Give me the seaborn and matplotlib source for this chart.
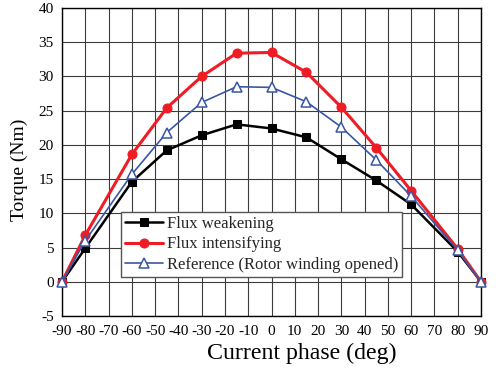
import matplotlib
matplotlib.use("Agg")
import matplotlib.pyplot as plt
import seaborn as sns
import pandas as pd

# Current phase angles (deg) and torque for each operating condition (Nm)
phase = [-90, -80, -60, -45, -30, -15, 0, 15, 30, 45, 60, 80, 90]
flux_weakening = [0, 4.9, 14.6, 19.2, 21.4, 23.0, 22.4, 21.1, 17.9, 14.8, 11.3, 4.4, 0]
flux_intensifying = [0, 6.8, 18.6, 25.4, 30.0, 33.4, 33.5, 30.6, 25.5, 19.6, 13.3, 4.8, 0]
reference = [0, 6.0, 15.7, 21.8, 26.2, 28.5, 28.4, 26.3, 22.6, 17.8, 12.5, 4.6, 0]

x_ticks = list(range(-90, 91, 10))
y_ticks = list(range(-5, 41, 5))

sns.set_theme(style="white")
plt.rcParams["font.family"] = ["Liberation Serif", "DejaVu Serif"]
plt.rcParams["axes.unicode_minus"] = False

fig = plt.figure(figsize=(4.96, 3.72), dpi=100)
ax = fig.add_axes([62 / 496, 1 - 316 / 372, 419 / 496, 308 / 372])

series = [
    ("Flux weakening", flux_weakening,
     dict(color="black", marker="s", markersize=5.5, linewidth=1.8,
          markerfacecolor="black", markeredgecolor="black")),
    ("Flux intensifying", flux_intensifying,
     dict(color="#ee1c25", marker="o", markersize=6.5, linewidth=2.2,
          markerfacecolor="#ee1c25", markeredgecolor="#ee1c25")),
    ("Reference (Rotor winding opened)", reference,
     dict(color="#3a56a5", marker="^", markersize=6.5, linewidth=1.2,
          markerfacecolor="white", markeredgecolor="#3a56a5",
          markeredgewidth=1.1)),
]

for name, values, style in series:
    df = pd.DataFrame({"phase": phase, "torque": values})
    sns.lineplot(data=df, x="phase", y="torque", ax=ax, label=name,
                 zorder=3, clip_on=False, **style)

ax.set_xlim(-90, 90)
ax.set_ylim(-5, 40)
ax.set_xticks(x_ticks)
ax.set_yticks(y_ticks)
ax.tick_params(axis="both", length=0, labelsize=11, colors="black")
ax.tick_params(axis="x", pad=6.5)
ax.tick_params(axis="y", pad=6)
ax.grid(True, color="#3c3c3c", linewidth=0.8)
ax.set_axisbelow(True)
for sp in ax.spines.values():
    sp.set_color("black")
    sp.set_linewidth(1.0)

ax.set_xlabel("Current phase (deg)", fontsize=17.2, color="black")
ax.set_ylabel("Torque (Nm)", fontsize=14, color="black")
ax.xaxis.set_label_coords(0.572, -0.088)
ax.yaxis.set_label_coords(-0.08, 0.474)

leg = ax.legend(loc="lower left", bbox_to_anchor=(0.141, 0.128),
                fontsize=12, frameon=True, fancybox=False,
                borderpad=0.22, labelspacing=0.27, handlelength=2.3,
                handletextpad=0.25, borderaxespad=0)
leg.get_frame().set_edgecolor("#555555")
leg.get_frame().set_linewidth(1.0)
leg.get_frame().set_alpha(1)

fig.savefig("out.png", dpi=100)
